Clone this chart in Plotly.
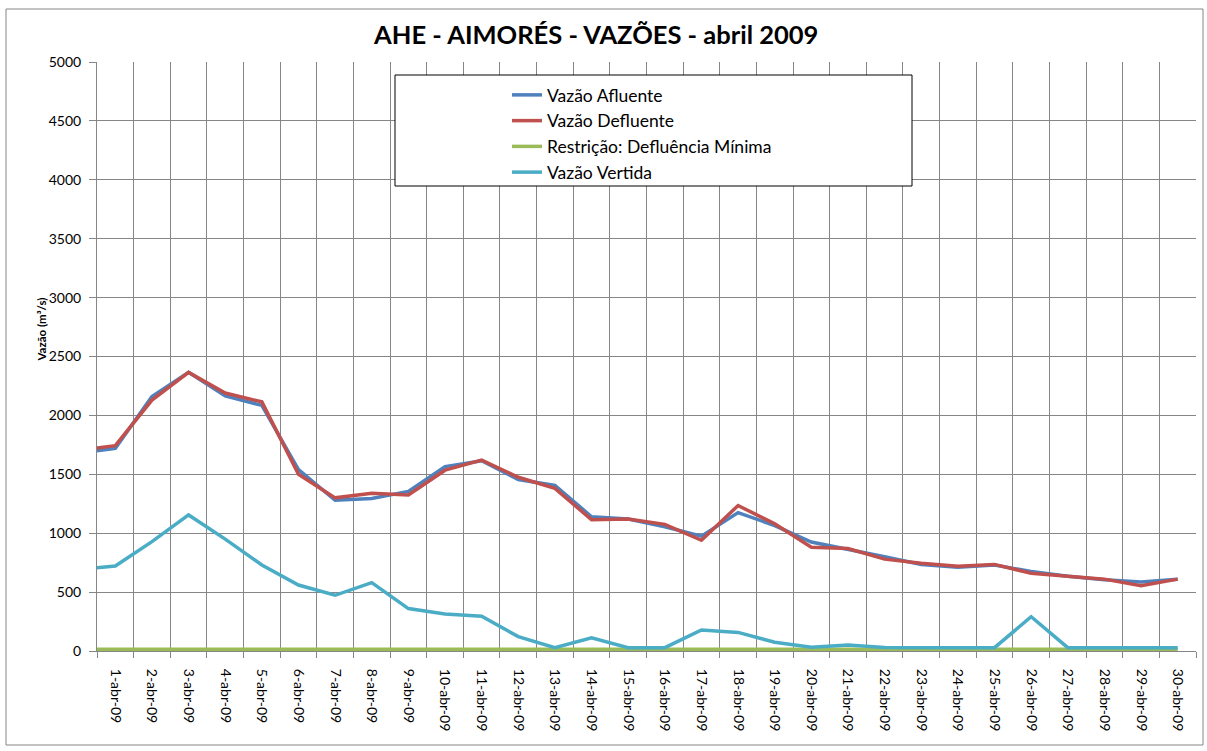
import plotly.graph_objects as go

# ---------------- data ----------------
days = ["31-mar-09"] + [f"{d}-abr-09" for d in range(1, 31)]

vazao_afluente = [1680, 1720, 2160, 2365, 2165, 2085, 1540, 1280, 1295, 1355,
                  1565, 1615, 1455, 1405, 1140, 1120, 1055, 975, 1175, 1065,
                  925, 865, 800, 735, 710, 730, 675, 635, 605, 585, 610]
vazao_defluente = [1703, 1743, 2130, 2365, 2190, 2115, 1500, 1300, 1340, 1325,
                   1535, 1620, 1475, 1380, 1115, 1120, 1075, 940, 1235, 1080,
                   880, 870, 780, 745, 720, 735, 660, 635, 610, 555, 610]
restricao_minima = [15] * 31
vazao_vertida = [693, 721, 928, 1155, 950, 730, 560, 473, 580, 360,
                 314, 295, 122, 28, 113, 28, 28, 178, 158, 74,
                 31, 51, 30, 28, 28, 28, 291, 28, 28, 28, 28]

series = [
    ("Vazão Afluente", vazao_afluente, "#4F81BD"),
    ("Vazão Defluente", vazao_defluente, "#C0504D"),
    ("Restrição: Defluência Mínima", restricao_minima, "#9BBB59"),
    ("Vazão Vertida", vazao_vertida, "#4BACC6"),
]

FONT = "Lato"
W, H = 1207, 751
L, R, T, B = 97, 1196, 62, 651

fig = go.Figure()
for i, (name, vals, col) in enumerate(series):
    fig.add_trace(go.Scatter(
        x=days, y=vals, name=name, mode="lines",
        line=dict(color=col, width=3.5),
        legendgroup=f"g{i}",
    ))

pw, ph = R - L, B - T
def px_x(p):
    return (p - L) / pw
def px_y(p):
    return (B - p) / ph

shapes = [
    # outer chart border
    dict(type="rect", xref="paper", yref="paper",
         x0=px_x(6), x1=px_x(1203), y0=px_y(745), y1=px_y(9),
         line=dict(color="#868686", width=1), fillcolor="rgba(0,0,0,0)", layer="below"),
    # legend box
    dict(type="rect", xref="paper", yref="paper",
         x0=px_x(395), x1=px_x(912), y0=px_y(186), y1=px_y(75),
         line=dict(color="black", width=1), fillcolor="white", layer="above"),
]

fig.update_layout(
    width=W, height=H,
    margin=dict(l=L, r=W - R, t=T, b=H - B),
    paper_bgcolor="white", plot_bgcolor="white",
    font=dict(family=FONT, color="black", size=14),
    title=dict(text="<b>AHE - AIMORÉS - VAZÕES - abril 2009</b>",
               x=0.494, xanchor="center", y=1 - 35 / H, yanchor="middle",
               font=dict(family=FONT, size=25.5, color="black")),
    showlegend=True,
    legend=dict(x=px_x(507), y=px_y(77), xanchor="left", yanchor="top",
                bgcolor="rgba(0,0,0,0)", borderwidth=0,
                font=dict(family=FONT, size=17.5, color="black"),
                tracegroupgap=0),
    shapes=shapes,
    annotations=[dict(text="<b>Vazão (m³/s)</b>", xref="paper", yref="paper",
                      x=px_x(32), y=px_y(330), textangle=-90, showarrow=False,
                      font=dict(family=FONT, size=11.5, color="black"))],
)

fig.update_xaxes(
    type="category", categoryorder="array", categoryarray=days,
    range=[0.5, 30.5], tickson="boundaries",
    showgrid=True, gridcolor="#868686", gridwidth=1,
    showline=True, linecolor="#868686", linewidth=1,
    ticks="outside", ticklen=6, tickcolor="#868686",
    tickangle=90, ticklabelstandoff=14,
    tickfont=dict(family=FONT, size=14, color="black"),
    zeroline=False, mirror=False,
)
fig.update_yaxes(
    range=[0, 5000], dtick=500, tick0=0,
    showgrid=True, gridcolor="#868686", gridwidth=1,
    showline=True, linecolor="#868686", linewidth=1,
    ticks="outside", ticklen=7, tickcolor="#868686", ticklabelstandoff=5,
    tickfont=dict(family=FONT, size=14, color="black"),
    zeroline=False,
)

fig.write_html("out.html", config={"displayModeBar": False},
               post_script="document.body.style.margin='0';")
